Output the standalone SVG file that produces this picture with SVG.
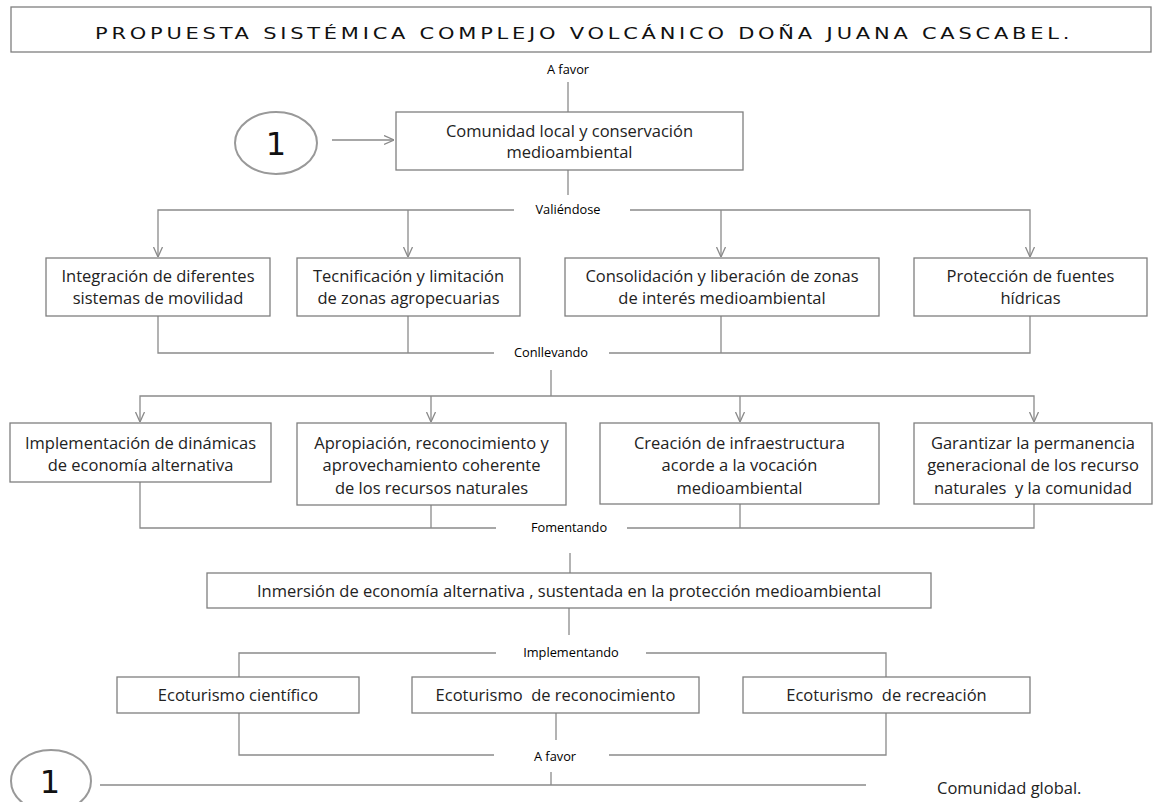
<svg xmlns="http://www.w3.org/2000/svg" width="1154" height="802" viewBox="0 0 1154 802">
<style>
.bx{fill:#fff;stroke:#7f7f7f;stroke-width:1.3}
.ln{fill:none;stroke:#8a8a8a;stroke-width:1.3}
.t{font-family:"Open Sans","Noto Sans",sans-serif;font-size:16.5px;fill:#222;text-anchor:middle;white-space:pre}
.lb{font-family:"Open Sans","Noto Sans",sans-serif;font-size:12.8px;fill:#000;text-anchor:middle}
.num{font-family:"DejaVu Sans",sans-serif;font-size:32px;fill:#111;text-anchor:middle}
.el{fill:#fff;stroke:#999;stroke-width:2}
</style>
<defs>
<marker id="ah" viewBox="0 0 10 10" refX="10" refY="5" markerWidth="10" markerHeight="11" markerUnits="userSpaceOnUse" orient="auto">
<path d="M0,0.5 L10,5 L0,9.5" fill="none" stroke="#8a8a8a" stroke-width="1.3"/>
</marker>
</defs>
<rect width="1154" height="802" fill="#fff"/>

<g id="title">
<rect class="bx" x="11" y="7" width="1140" height="45"/>
<text transform="translate(95,39) scale(1.4,1)" x="0" y="0" textLength="696" lengthAdjust="spacing" style="font-family:'DejaVu Sans',sans-serif;font-size:15px;fill:#111">PROPUESTA SISTÉMICA COMPLEJO VOLCÁNICO DOÑA <tspan style="font-size:16px">J</tspan>UANA CASCABEL.</text>
</g>

<g id="connectors">
<path class="ln" d="M568,82 V112"/>
<path class="ln" d="M332,140 H394" marker-end="url(#ah)"/>
<path class="ln" d="M568,170 V195"/>
<path class="ln" d="M514,210 H158 V257" marker-end="url(#ah)"/>
<path class="ln" d="M408,210 V257" marker-end="url(#ah)"/>
<path class="ln" d="M630,210 H1030 V257" marker-end="url(#ah)"/>
<path class="ln" d="M721,210 V257" marker-end="url(#ah)"/>
<path class="ln" d="M158,316 V353 H494"/>
<path class="ln" d="M408,316 V353"/>
<path class="ln" d="M609,353 H1030 V316"/>
<path class="ln" d="M721,316 V353"/>
<path class="ln" d="M551,370 V396"/>
<path class="ln" d="M551,396 H140 V422" marker-end="url(#ah)"/>
<path class="ln" d="M431,396 V422" marker-end="url(#ah)"/>
<path class="ln" d="M551,396 H1034 V422" marker-end="url(#ah)"/>
<path class="ln" d="M740,396 V422" marker-end="url(#ah)"/>
<path class="ln" d="M140,482 V528 H496"/>
<path class="ln" d="M431,505 V528"/>
<path class="ln" d="M627,528 H1034 V504"/>
<path class="ln" d="M740,504 V528"/>
<path class="ln" d="M570,553 V573"/>
<path class="ln" d="M569,608 V635"/>
<path class="ln" d="M496,653 H239 V677"/>
<path class="ln" d="M646,653 H886 V677"/>
<path class="ln" d="M239,713 V755 H494"/>
<path class="ln" d="M556,713 V740"/>
<path class="ln" d="M609,755 H886 V713"/>
<path class="ln" d="M100,785 H866"/>
<path class="ln" d="M551,772 V785"/>
</g>

<g id="labels">
<text class="lb" x="568" y="74">A favor</text>
<text class="lb" x="568" y="214">Valiéndose</text>
<text class="lb" x="551" y="357">Conllevando</text>
<text class="lb" x="569" y="532">Fomentando</text>
<text class="lb" x="571" y="657">Implementando</text>
<text class="lb" x="555" y="761">A favor</text>
</g>

<g id="circle-top">
<ellipse class="el" cx="276" cy="143" rx="41" ry="31"/>
<text class="num" x="276" y="155">1</text>
</g>

<g id="n-comunidad">
<rect class="bx" x="396" y="112" width="347" height="58"/>
<text class="t" x="569.5" y="137">Comunidad local y conservación</text>
<text class="t" x="569.5" y="158">medioambiental</text>
</g>

<g id="n-integracion">
<rect class="bx" x="46" y="258" width="224" height="58"/>
<text class="t" x="158" y="282">Integración de diferentes</text>
<text class="t" x="158" y="304">sistemas de movilidad</text>
</g>
<g id="n-tecnificacion">
<rect class="bx" x="297" y="258" width="223" height="58"/>
<text class="t" x="408.5" y="282">Tecnificación y limitación</text>
<text class="t" x="408.5" y="304">de zonas agropecuarias</text>
</g>
<g id="n-consolidacion">
<rect class="bx" x="565" y="258" width="314" height="58"/>
<text class="t" x="722" y="282">Consolidación y liberación de zonas</text>
<text class="t" x="722" y="304">de interés medioambiental</text>
</g>
<g id="n-proteccion">
<rect class="bx" x="914" y="258" width="233" height="58"/>
<text class="t" x="1030.5" y="282">Protección de fuentes</text>
<text class="t" x="1030.5" y="304">hídricas</text>
</g>

<g id="n-implementacion">
<rect class="bx" x="10" y="423" width="261" height="59"/>
<text class="t" x="140.5" y="449">Implementación de dinámicas</text>
<text class="t" x="140.5" y="471">de economía alternativa</text>
</g>
<g id="n-apropiacion">
<rect class="bx" x="297" y="423" width="269" height="82"/>
<text class="t" x="431.5" y="449">Apropiación, reconocimiento y</text>
<text class="t" x="431.5" y="471">aprovechamiento coherente</text>
<text class="t" x="431.5" y="494">de los recursos naturales</text>
</g>
<g id="n-creacion">
<rect class="bx" x="600" y="423" width="279" height="81"/>
<text class="t" x="739.5" y="449">Creación de infraestructura</text>
<text class="t" x="739.5" y="471">acorde a la vocación</text>
<text class="t" x="739.5" y="494">medioambiental</text>
</g>
<g id="n-garantizar">
<rect class="bx" x="914" y="423" width="238" height="81"/>
<text class="t" x="1033" y="449">Garantizar la permanencia</text>
<text class="t" x="1033" y="471">generacional de los recurso</text>
<text class="t" x="1033" y="494">naturales  y la comunidad</text>
</g>

<g id="n-inmersion">
<rect class="bx" x="207" y="573" width="724" height="35"/>
<text class="t" x="569" y="597">Inmersión de economía alternativa , sustentada en la protección medioambiental</text>
</g>

<g id="n-cientifico">
<rect class="bx" x="117" y="677" width="242" height="36"/>
<text class="t" x="238" y="701">Ecoturismo científico</text>
</g>
<g id="n-reconocimiento">
<rect class="bx" x="412" y="677" width="287" height="36"/>
<text class="t" x="555.5" y="701">Ecoturismo  de reconocimiento</text>
</g>
<g id="n-recreacion">
<rect class="bx" x="743" y="677" width="287" height="36"/>
<text class="t" x="886.5" y="701">Ecoturismo  de recreación</text>
</g>

<g id="circle-bottom">
<ellipse class="el" cx="51" cy="781" rx="40" ry="31"/>
<text class="num" x="50" y="793">1</text>
</g>

<g id="n-global">
<text x="937" y="794" style="font-family:'Open Sans','Noto Sans',sans-serif;font-size:16.5px;fill:#222">Comunidad global.</text>
</g>
</svg>
